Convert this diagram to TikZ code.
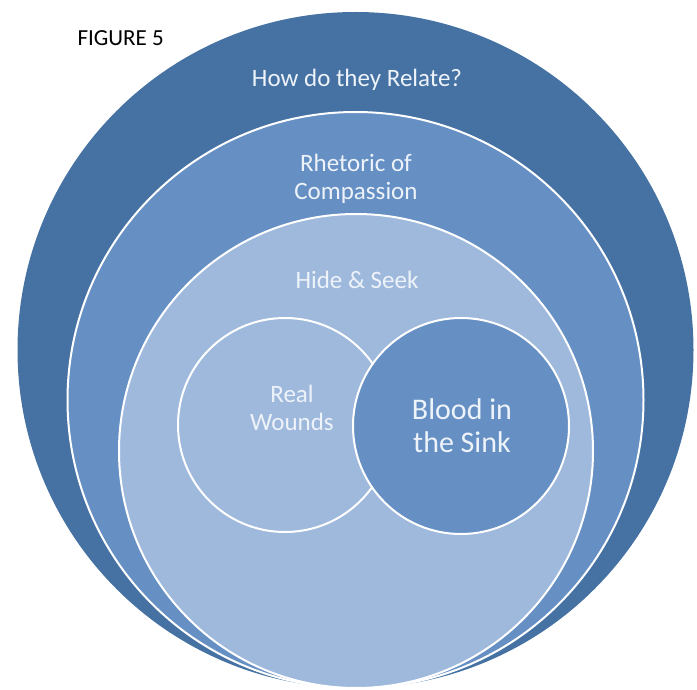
\documentclass[tikz,border=0pt]{standalone}
\usepackage{xcolor}
\usepackage{fontspec}
\setmainfont{Carlito}
\usepackage{tikz}
\definecolor{RelDark}{RGB}{69,114,162}
\definecolor{RelMid}{RGB}{102,144,196}
\definecolor{RelLight}{RGB}{159,185,221}
\definecolor{RelText}{RGB}{238,243,250}

\tikzset{
	ring/.style={circle, draw=white, line width=2pt, inner sep=0pt},
	label/.style={text=RelText, align=center, font=\fontsize{25}{28}\selectfont}
}

\begin{document}
\begin{tikzpicture}[x=1pt, y=-1pt]
	\useasboundingbox (0,0) rectangle (697,690);

	\node[circle, fill=RelDark, inner sep=0pt, minimum size=676pt] (relate) at (355.5,350) {};
	\node[ring, fill=RelMid, minimum size=576pt] (rhetoric) at (355.5,400) {};
	\node[ring, fill=RelLight, minimum size=474pt] (hide) at (356,451) {};
	
	\node[ring, fill=RelLight, minimum size=214pt] (wounds) at (285,425) {};
	\node[ring, fill=RelMid, minimum size=216pt] (blood) at (461,426) {};
	
	\node[label] (relatetext) at (357,80) {How do they Relate?};
	\node[label] (rhetorictext) at (356,179) {Rhetoric of\\Compassion};
	\node[label] (hidetext) at (357,280) {Hide \& Seek};
	\node[label] (woundstext) at (292,408) {Real\\Wounds};
	\node[label, font=\fontsize{30}{33}\selectfont] (bloodtext) at (462,426) {Blood in\\the Sink};
	
	\node[font=\fontsize{23}{26}\selectfont, anchor=west] (figure) at (74,38) {FIGURE 5};
\end{tikzpicture}
\end{document}
